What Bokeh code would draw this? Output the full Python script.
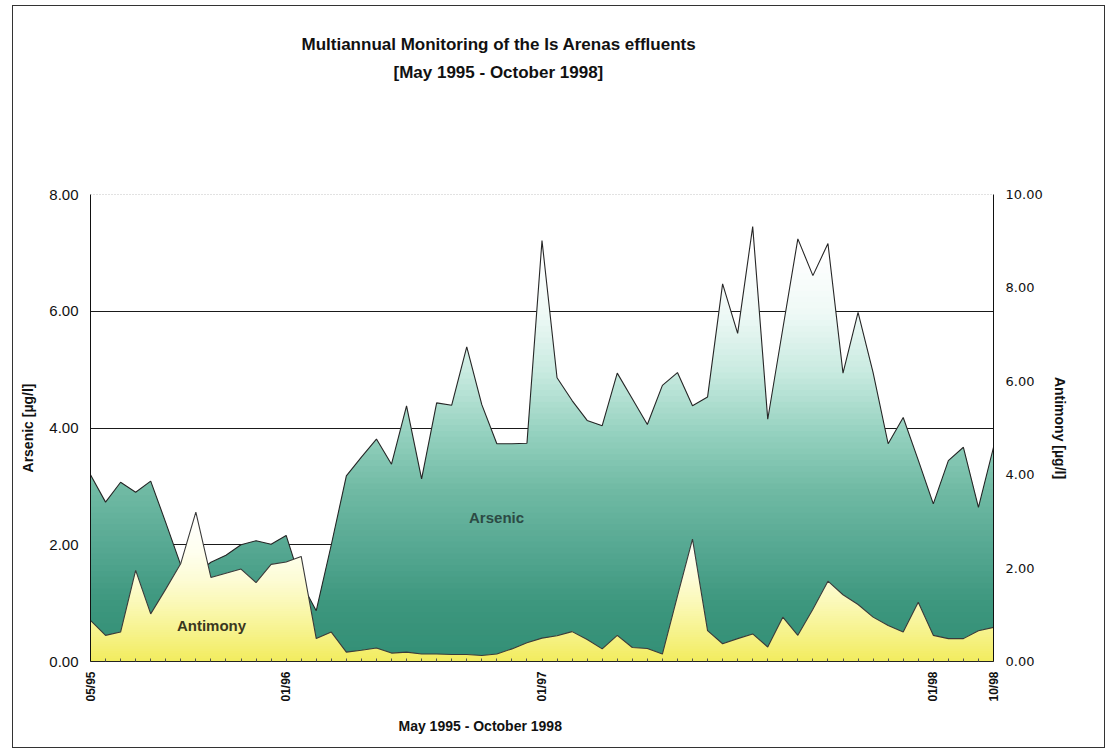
import numpy as np
from bokeh.plotting import figure
from bokeh.models import (Range1d, LinearAxis, FixedTicker, NumeralTickFormatter,
                          Label, Span, Title)
from bokeh.embed import file_html
from bokeh.resources import INLINE

# One entry per sampling campaign, May 1995 - October 1998
sample_idx = list(range(61))

# Arsenic [µg/l], left axis
arsenic = [3.20, 2.73, 3.07, 2.90, 3.09, 2.38, 1.65, 1.50, 1.70, 1.82,
           2.00, 2.07, 2.01, 2.16, 1.35, 0.87, 2.00, 3.18, 3.50, 3.81,
           3.38, 4.38, 3.13, 4.43, 4.39, 5.39, 4.40, 3.73, 3.73, 3.74,
           7.21, 4.86, 4.47, 4.13, 4.04, 4.94, 4.50, 4.06, 4.73, 4.95,
           4.38, 4.53, 6.47, 5.62, 7.45, 4.15, 5.70, 7.24, 6.61, 7.16,
           4.94, 5.98, 4.95, 3.73, 4.18, 3.45, 2.70, 3.44, 3.67, 2.64,
           3.67]

# Antimony [µg/l], right axis
antimony = [0.88, 0.56, 0.63, 1.95, 1.02, 1.55, 2.10, 3.20, 1.80, 1.89,
            1.98, 1.69, 2.08, 2.13, 2.25, 0.49, 0.63, 0.20, 0.24, 0.29,
            0.18, 0.20, 0.16, 0.16, 0.15, 0.15, 0.13, 0.16, 0.27, 0.40,
            0.50, 0.55, 0.64, 0.47, 0.27, 0.56, 0.30, 0.28, 0.16, 1.40,
            2.62, 0.66, 0.38, 0.49, 0.59, 0.31, 0.95, 0.56, 1.12, 1.72,
            1.43, 1.22, 0.95, 0.77, 0.63, 1.27, 0.56, 0.49, 0.49, 0.66,
            0.73]

date_ticks = [0, 13, 30, 56, 60]
date_labels = ["05/95", "01/96", "01/97", "01/98", "10/98"]
arsenic_ticks = [0, 2, 4, 6, 8]
antimony_ticks = [0, 2, 4, 6, 8, 10]

# vertical colour ramps of the two filled areas (value -> rgb)
teal_stops = [0.0, 1.0, 2.0, 3.0, 4.0, 5.0, 6.0, 7.0]
teal_rgb = [(50, 142, 117), (60, 150, 125), (86, 168, 146), (112, 186, 164),
            (150, 210, 192), (200, 234, 224), (238, 249, 246), (255, 255, 255)]
yellow_stops = [0.0, 0.6, 1.2, 1.8, 2.4, 3.2]
yellow_rgb = [(242, 236, 92), (246, 242, 136), (250, 248, 178),
              (253, 252, 214), (255, 255, 240), (255, 255, 255)]

FONT = "Liberation Sans"


def ramp(v, stops, rgb):
    ch = [int(round(np.interp(v, stops, [c[k] for c in rgb]))) for k in range(3)]
    return "#%02x%02x%02x" % tuple(ch)


def band(xs, ys, lo, hi):
    """Part of the area under (xs, ys) lying between lo and hi."""
    xs = np.asarray(xs, float)
    ys = np.asarray(ys, float)
    pts = list(xs)
    for level in (lo, hi):
        for j in range(len(xs) - 1):
            a, b = ys[j], ys[j + 1]
            if (a - level) * (b - level) < 0:
                t = (level - a) / (b - a)
                pts.append(xs[j] + t * (xs[j + 1] - xs[j]))
    bx = np.unique(pts)
    by = np.interp(bx, xs, ys)
    return bx, np.minimum(by, lo), np.minimum(by, hi)


def gradient_area(p, xs, ys, step, top, stops, rgb, **kw):
    lo = 0.0
    while lo < min(max(ys), top):
        hi = lo + step
        bx, y1, y2 = band(xs, ys, max(lo - step * 0.5, 0.0), hi)
        p.varea(x=bx, y1=y1, y2=y2, fill_color=ramp(lo + step / 2, stops, rgb),
                fill_alpha=1.0, **kw)
        lo = hi


# chart area sits inside a thin frame, 12 px from the left and 5 px from the top
p = figure(width=1093, height=743, output_backend="svg", toolbar_location=None,
           x_range=Range1d(0, 60), y_range=Range1d(0, 8),
           min_border_left=77, min_border_right=113,
           min_border_top=188, min_border_bottom=88,
           background_fill_color="white", border_fill_color="white",
           outline_line_color=None)
p.margin = (5, 0, 0, 12)
p.styles = {"border": "1px solid #333333"}
p.extra_y_ranges = {"sb": Range1d(0, 10)}

# grid
p.xgrid.visible = False
p.ygrid.ticker = FixedTicker(ticks=[2, 4, 6])
p.ygrid.grid_line_color = "#1a1a1a"
p.ygrid.grid_line_width = 1
p.add_layout(Span(location=8, dimension="width", line_color="#8a8a8a",
                  line_dash="1 2", line_width=1))

# left axis: arsenic
ya = p.yaxis[0]
ya.ticker = FixedTicker(ticks=arsenic_ticks)
ya.formatter = NumeralTickFormatter(format="0.00")
ya.major_label_text_font = FONT
ya.major_label_text_font_size = "15px"
ya.major_label_text_color = "#111111"
ya.major_label_standoff = 12
ya.major_tick_in = 0
ya.major_tick_out = 0
ya.minor_tick_line_color = None
ya.axis_line_color = "#111111"
ya.axis_label = "Arsenic [µg/l]"
ya.axis_label_text_font = FONT
ya.axis_label_text_font_size = "14px"
ya.axis_label_text_font_style = "bold"
ya.axis_label_text_color = "#111111"
ya.axis_label_standoff = 10

# right axis: antimony
yr = LinearAxis(y_range_name="sb", ticker=FixedTicker(ticks=antimony_ticks),
                formatter=NumeralTickFormatter(format="0.00"))
yr.major_label_text_font = "DejaVu Sans"
yr.major_label_text_font_size = "13px"
yr.major_label_text_color = "#111111"
yr.major_label_standoff = 12
yr.major_tick_in = 0
yr.major_tick_out = 0
yr.minor_tick_line_color = None
yr.axis_line_color = "#111111"
yr.axis_label = "Antimony [µg/l]"
yr.axis_label_text_font = FONT
yr.axis_label_text_font_size = "14px"
yr.axis_label_text_font_style = "bold"
yr.axis_label_text_color = "#111111"
yr.axis_label_standoff = 6
p.add_layout(yr, "right")

# bottom axis: sampling dates
xa = p.xaxis[0]
xa.ticker = FixedTicker(ticks=sample_idx)
overrides = {i: "" for i in sample_idx}
overrides.update({t: s for t, s in zip(date_ticks, date_labels)})
xa.major_label_overrides = overrides
xa.major_label_orientation = np.pi / 2
xa.major_label_text_font = FONT
xa.major_label_text_font_size = "12px"
xa.major_label_text_font_style = "bold"
xa.major_label_text_color = "#111111"
xa.major_label_standoff = 10
xa.major_tick_in = 3
xa.major_tick_out = 0
xa.major_tick_line_color = "#555555"
xa.minor_tick_line_color = None
xa.axis_line_color = "#222222"

# filled areas: arsenic behind, antimony in front
gradient_area(p, sample_idx, arsenic, 0.1, 8.0, teal_stops, teal_rgb)
p.line(sample_idx, arsenic, line_color="#262626", line_width=1.1)
gradient_area(p, sample_idx, antimony, 0.05, 10.0, yellow_stops, yellow_rgb,
              y_range_name="sb")
p.line(sample_idx, antimony, line_color="#3a3a3a", line_width=1.1,
       y_range_name="sb")

# series names inside the areas
p.add_layout(Label(x=26.98, y=2.47, text="Arsenic", text_align="center",
                   text_baseline="middle", text_font=FONT,
                   text_font_size="15px", text_font_style="bold",
                   text_color="#2c4a44"))
p.add_layout(Label(x=8.04, y=0.62, text="Antimony", text_align="center",
                   text_baseline="middle", text_font=FONT,
                   text_font_size="15px", text_font_style="bold",
                   text_color="#3a3820"))


# two-line chart title, then the time-span caption under the date axis
def title(text, size, offset, standoff, where):
    t = Title(text=text, align="left", offset=offset, standoff=standoff,
              text_font=FONT, text_font_size=size, text_font_style="bold",
              text_color="#111111")
    p.add_layout(t, where)


# empty gap between the title block and the plot frame
p.add_layout(Title(text=" ", standoff=100, text_font_size="10px"), "above")
title("[May 1995 - October 1998]", "17px", 303, 0, "above")
title("Multiannual Monitoring of the Is Arenas effluents", "17px", 211, 14, "above")
title("May 1995 - October 1998", "14px", 308, 22, "below")

open("out.html", "w").write(file_html(p, INLINE))
